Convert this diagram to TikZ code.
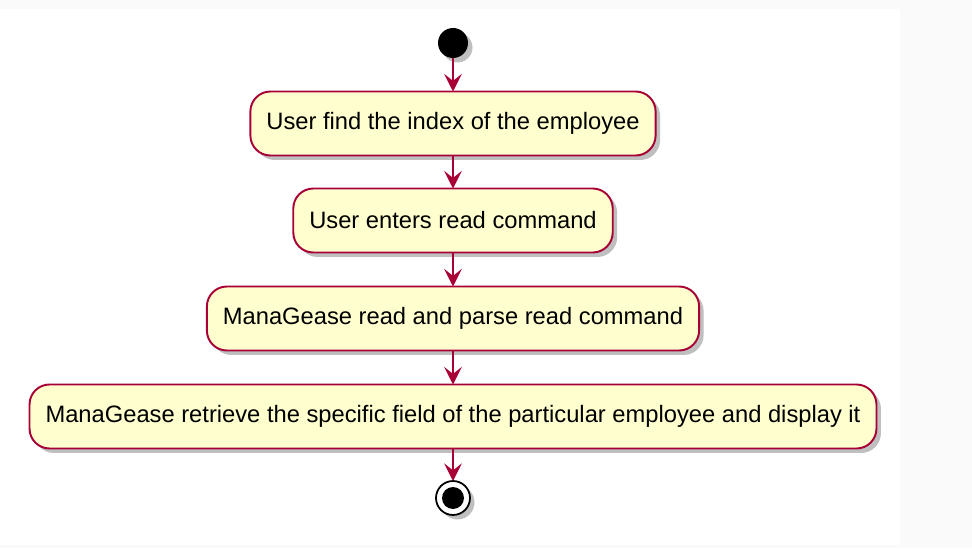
\documentclass[tikz,border=0pt]{standalone}
\usepackage{fontspec}
\setmainfont{Liberation Sans}
\usetikzlibrary{shadows,arrows.meta}

\definecolor{umlRed}{HTML}{A80036}
\definecolor{umlFill}{HTML}{FEFECE}

\begin{document}
\begin{tikzpicture}[
  every node/.style={
    outer sep=0pt,
  },
  activity/.style={
    draw=umlRed, fill=umlFill, line width=0.55pt,
    rounded corners=0.2cm, minimum height=0.64cm,
    inner xsep=0.16cm, font=\fontsize{6.75}{8}\selectfont,
    drop shadow={shadow xshift=0.045cm, shadow yshift=-0.045cm, opacity=0.5},
  },
  flow/.style={
    draw=umlRed, line width=0.5pt,
    -{Stealth[length=5pt, width=5pt, inset=2pt]},
  },
]

  % background
  \fill [gray!4] (0,0) rectangle (9.72,5.48);
  \fill [white] (0,0.03) rectangle (9.0,5.39);
  \useasboundingbox (0,0) rectangle (9.72,5.48);

  \def\midX{4.53}

  \node (start) [circle, fill=black, minimum size=0.3cm, inner sep=0pt,
    drop shadow={shadow xshift=0.045cm, shadow yshift=-0.045cm, opacity=0.5}]
    at (\midX,5.05) {};

  \node (find)   [activity] at (\midX,4.245) {User find the index of the employee};
  \node (enter)  [activity] at (\midX,3.275) {User enters read command};
  \node (parse)  [activity] at (\midX,2.295) {ManaGease read and parse read command};
  \node (show)   [activity] at (\midX,1.315) {ManaGease retrieve the specific field of the particular employee and display it};

  \node (stop) [circle, draw=black, fill=white, line width=0.5pt, minimum size=0.34cm, inner sep=0pt,
    drop shadow={shadow xshift=0.045cm, shadow yshift=-0.045cm, opacity=0.5}]
    at (\midX,0.50) {};
  \fill [black] (stop.center) circle (0.11cm);

  \draw [flow] (start) -- (find);
  \draw [flow] (find) -- (enter);
  \draw [flow] (enter) -- (parse);
  \draw [flow] (parse) -- (show);
  \draw [flow] (show) -- (stop);

\end{tikzpicture}
\end{document}
